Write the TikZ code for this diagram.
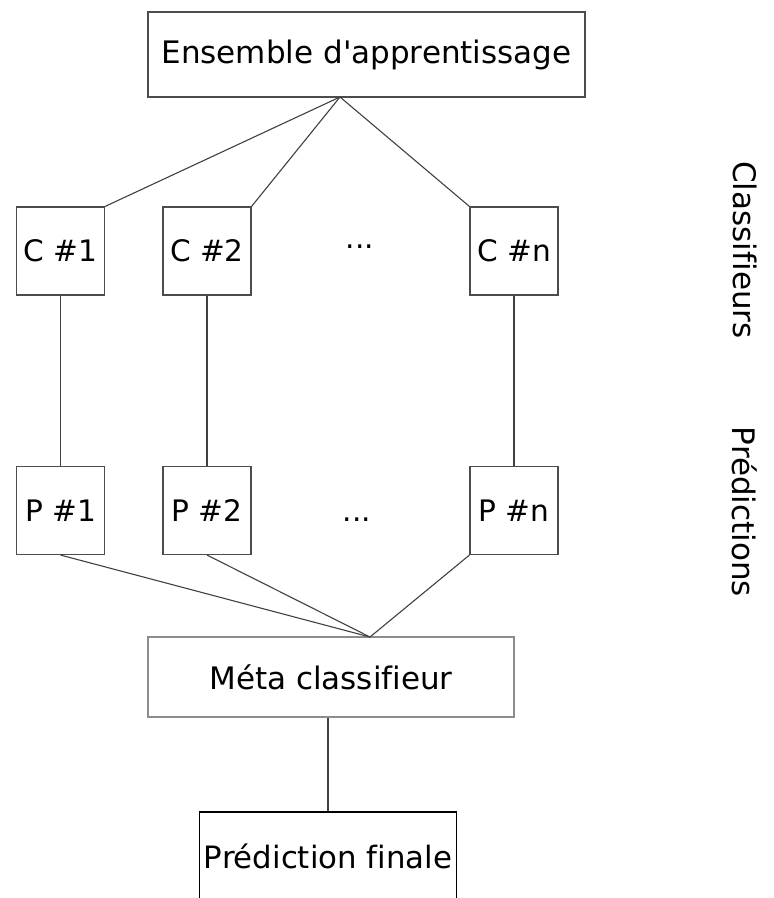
\documentclass[tikz,border=0pt]{standalone}
\usepackage{fontspec}
\setmainfont{DejaVu Sans}[Ligatures=NoCommon]
\usetikzlibrary{positioning}

\begin{document}
\begin{tikzpicture}[
    x=1pt, y=-1pt,
    font=\fontsize{29.6}{34}\selectfont,
    box/.style={
        rectangle,
        draw=black!70,
        line width=1.1pt,
        minimum width=88pt,
        minimum height=88pt,
        inner sep=0pt,
        align=center
    },
    link/.style={draw=black!75, line width=1.1pt},
    side/.style={rotate=-90, font=\fontsize{31}{36}\selectfont}
]

\def\xa{60.5}
\def\xb{207}
\def\xc{514}
\def\yc{251}
\def\yp{510.5}

\useasboundingbox (0,0) rectangle (774,898);

% Training set
\node[box, minimum width=437pt, minimum height=85pt, font=\fontsize{31}{36}\selectfont] (ens) at (366.5,54.5) {Ensemble d\textquotesingle apprentissage};
\coordinate (top) at (340,97);

% Classifiers
\node[box] (c1) at (\xa,\yc) {C \#1};
\node[box] (c2) at (\xb,\yc) {C \#2};
\node[box] (cn) at (\xc,\yc) {C \#n};
\node (dc) at (360,247) {...};

% Predictions
\node[box] (p1) at (\xa,\yp) {P \#1};
\node[box] (p2) at (\xb,\yp) {P \#2};
\node[box] (pn) at (\xc,\yp) {P \#n};
\node (dp) at (357,520) {...};

% Meta classifier and final output
\node[box, draw=black!45, minimum width=366pt, minimum height=80pt, font=\fontsize{31}{36}\selectfont] (meta) at (331,677) {Méta classifieur};
\coordinate (bot) at (370,637);
\node[box, draw=black, line width=1.7pt, minimum width=257pt, font=\fontsize{30.8}{36}\selectfont] (fin) at (328,856) {Prédiction finale};

% Side labels
\node[side] (lc) at (745,250) {Classifieurs};
\node[side] (lp) at (745,512) {Prédictions};

% Lines
\draw[link] (top) -- (c1.north east);
\draw[link] (top) -- (c2.north east);
\draw[link] (top) -- (cn.north west);
\draw[link] (c1) -- (p1);
\draw[link] (c2) -- (p2);
\draw[link] (cn) -- (pn);
\draw[link] (p1.south) -- (bot);
\draw[link] (p2.south) -- (bot);
\draw[link] (pn.south west) -- (bot);
\draw[link] (meta.south -| fin.north) -- (fin.north);

\end{tikzpicture}
\end{document}
